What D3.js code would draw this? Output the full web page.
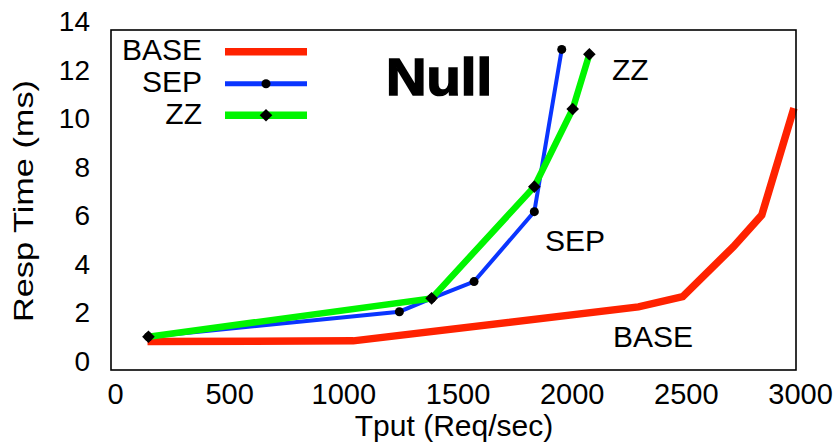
<!DOCTYPE html>
<html lang="en">
<head>
<meta charset="UTF-8">
<title>Null - Resp Time vs Tput</title>
<script src="https://d3js.org/d3.v7.min.js"></script>
<style>
  body { margin: 0; background: #fff; }
  svg text { font-family: "Liberation Sans", Arial, sans-serif; fill: #000; }
</style>
</head>
<body>
<div id="chart"></div>
<script>
// data: throughput (req/sec) and response time (ms)
var seriesNames = ["BASE", "SEP", "ZZ"];
var baseTput = [160, 1061, 2310, 2504, 2726, 2850, 2991];
var baseResp = [1.17, 1.2, 2.6, 3.02, 5.08, 6.38, 10.78];
var sepTput = [164, 1263, 1404, 1590, 1854, 1974];
var sepResp = [1.37, 2.4, 2.95, 3.64, 6.52, 13.2];
var zzTput = [164, 1404, 1854, 2022, 2095];
var zzResp = [1.37, 2.95, 7.55, 10.75, 13.0];
var xTicks = [0, 500, 1000, 1500, 2000, 2500, 3000];
var yTicks = [0, 2, 4, 6, 8, 10, 12, 14];

var width = 838, height = 443;
var plotLeft = 111, plotRight = 796, plotTop = 30, plotBottom = 370;

var x = d3.scaleLinear().domain([0, 3000]).range([plotLeft, plotRight]);
var y = d3.scaleLinear().domain([0, 14]).range([plotBottom, plotTop]);

var svg = d3.select('#chart').append('svg')
  .attr('width', width)
  .attr('height', height);

// tick labels (no tick marks)
var gx = svg.append('g')
  .attr('transform', 'translate(4,' + plotBottom + ')')
  .call(d3.axisBottom(x).tickValues(xTicks).tickSize(0).tickPadding(13).tickFormat(d3.format('d')));
gx.select('.domain').remove();
gx.selectAll('text').style('font-size', '29px').style('font-family', '"Liberation Sans", Arial, sans-serif');

var gy = svg.append('g')
  .attr('transform', 'translate(' + plotLeft + ',-8.5)')
  .call(d3.axisLeft(y).tickValues(yTicks).tickSize(0).tickPadding(21).tickFormat(d3.format('d')));
gy.select('.domain').remove();
gy.selectAll('text').style('font-size', '28px').style('font-family', '"Liberation Sans", Arial, sans-serif');

// axis titles
svg.append('text')
  .attr('x', 454).attr('y', 436)
  .attr('text-anchor', 'middle')
  .style('font-size', '30px')
  .text('Tput (Req/sec)');

svg.append('text')
  .attr('transform', 'translate(33,201) rotate(-90)')
  .attr('text-anchor', 'middle')
  .attr('textLength', 242)
  .attr('lengthAdjust', 'spacingAndGlyphs')
  .style('font-size', '27px')
  .text('Resp Time (ms)');

// series
var series = [
  { name: seriesNames[0], tput: baseTput, resp: baseResp, color: '#ff2200', width: 7.5, marker: 'none' },
  { name: seriesNames[1], tput: sepTput, resp: sepResp, color: '#0a35ff', width: 4, marker: 'circle' },
  { name: seriesNames[2], tput: zzTput, resp: zzResp, color: '#00f500', width: 6.5, marker: 'diamond' }
];

var line = d3.line()
  .x(function(d){ return x(d[0]); })
  .y(function(d){ return y(d[1]); });

function markerPath(kind) {
  if (kind === 'circle') return d3.symbol().type(d3.symbolCircle).size(64)();
  if (kind === 'diamond') return 'M0,-6.3L6.3,0L0,6.3L-6.3,0Z';
  return null;
}

series.forEach(function(s){
  var pts = s.tput.map(function(t, i){ return [t, s.resp[i]]; });
  svg.append('path')
    .datum(pts)
    .attr('d', line)
    .attr('fill', 'none')
    .attr('stroke', s.color)
    .attr('stroke-width', s.width)
    .attr('stroke-linejoin', 'miter');
  if (s.marker !== 'none') {
    svg.selectAll(null)
      .data(pts)
      .enter()
      .append('path')
      .attr('d', markerPath(s.marker))
      .attr('transform', function(d){ return 'translate(' + x(d[0]) + ',' + y(d[1]) + ')'; })
      .attr('fill', '#000');
  }
});

// frame
svg.append('rect')
  .attr('x', plotLeft).attr('y', plotTop)
  .attr('width', plotRight - plotLeft).attr('height', plotBottom - plotTop)
  .attr('fill', 'none')
  .attr('stroke', '#000')
  .attr('stroke-width', 1.6);

// legend
var legendY = [51.7, 83.7, 115.3];
var legendBase = [60, 91.7, 124];
series.forEach(function(s, i){
  svg.append('text')
    .attr('x', 202).attr('y', legendBase[i])
    .attr('text-anchor', 'end')
    .style('font-size', '30px')
    .text(s.name);
  svg.append('line')
    .attr('x1', 225).attr('x2', 307)
    .attr('y1', legendY[i]).attr('y2', legendY[i])
    .attr('stroke', s.color)
    .attr('stroke-width', i === 1 ? 5 : 7.5);
  if (s.marker !== 'none') {
    svg.append('path')
      .attr('d', markerPath(s.marker))
      .attr('transform', 'translate(266,' + legendY[i] + ')')
      .attr('fill', '#000');
  }
});

// in-plot labels
svg.append('text').attr('x', 612).attr('y', 80).style('font-size', '30px').text('ZZ');
svg.append('text').attr('x', 545).attr('y', 251).style('font-size', '30px').text('SEP');
svg.append('text').attr('x', 613).attr('y', 347).style('font-size', '30px').text('BASE');

// title
svg.append('text')
  .attr('x', 386).attr('y', 95)
  .attr('textLength', 106)
  .attr('lengthAdjust', 'spacingAndGlyphs')
  .style('font-size', '52px')
  .style('font-weight', 'bold')
  .style('stroke', '#000')
  .style('stroke-width', '1.6px')
  .text('Null');
</script>
</body>
</html>
